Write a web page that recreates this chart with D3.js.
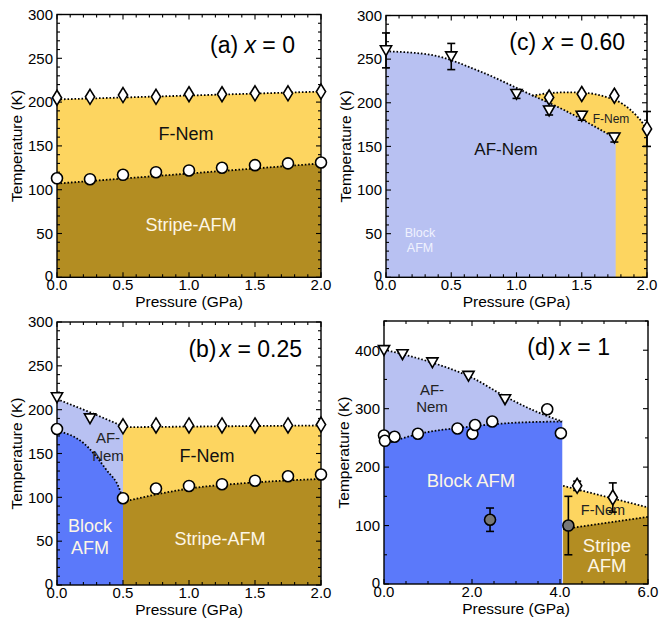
<!DOCTYPE html>
<html><head><meta charset="utf-8">
<script src="https://cdn.jsdelivr.net/npm/d3@7"></script>
<style>body{margin:0;background:#fff} text{font-family:"Liberation Sans",Arial,Helvetica,sans-serif}</style>
</head><body><svg id="chart" width="659" height="623"></svg>
<script>
// ---------- colours ----------
const C_FNEM = "#fdd560", C_STRIPE = "#b38d22", C_AFNEM = "#b8c1f2", C_BLOCK = "#5b79fa";

// ---------- panel (a) x = 0 ----------
const aP = [0, 0.25, 0.5, 0.75, 1, 1.25, 1.5, 1.75, 2];
const aTnem = [205, 206, 208, 206, 209, 209, 210, 210, 212];
const aTstripe = [113, 112, 117, 120, 122, 125, 128, 130, 131];
const aNemBoundary = [[0, 203], [2, 212]];
const aStripeBoundary = [[0, 107], [2, 130]];

// ---------- panel (b) x = 0.25 ----------
const bPtri = [0, 0.25], bTtri = [214, 190];
const bPdia = [0.5, 0.75, 1, 1.25, 1.5, 1.75, 2], bTdia = [181, 182, 182, 182, 182, 182, 183];
const bPcirc = [0, 0.5, 0.75, 1, 1.25, 1.5, 1.75, 2], bTcirc = [178, 99, 110, 113, 115, 119, 124, 126];
const bAFNemBoundary = [[0, 212], [0.25, 197], [0.5, 181]];
const bFNemBoundary = [[0.5, 180], [2, 182]];
const bBlockBoundary = [[0, 176], [0.2, 162], [0.376, 131], [0.477, 108], [0.5, 97]];
const bStripeBoundary = [[0.5, 95], [1, 110], [1.5, 117], [2, 121]];

// ---------- panel (c) x = 0.60 ----------
const cPtri = [0, 0.5, 1.0, 1.25, 1.5, 1.75], cTtri = [260, 253, 210, 191, 185, 160], cErrTri = [20, 15, 5, 5, 5, 5];
const cPdia = [1.25, 1.5, 1.75, 2.0], cTdia = [206, 210, 208, 170], cErrDia = [0, 0, 0, 20];
const cAFNemBoundary = [[0, 259], [0.34, 255], [0.72, 236], [1.10, 210], [1.36, 192], [1.76, 159]];
const cFNemBoundary = [[1.12, 208], [1.25, 211], [1.4, 212], [1.55, 211], [1.7, 206], [1.82, 198], [1.92, 185], [1.97, 176], [2.0, 168]];

// ---------- panel (d) x = 1 ----------
const dPtri = [0, 0.42, 1.10, 1.92, 2.75], dTtri = [400, 393, 379, 356, 316];
const dPcirc = [0, 0.02, 0.24, 0.77, 1.67, 2.01, 2.07, 2.46, 3.71, 4.02];
const dTcirc = [254, 245, 252, 257, 266, 257, 272, 278, 299, 258];
const dPgray = [2.41, 4.19], dTgray = [110, 100], dErrGray = [20, 50];
const dPdia = [4.39, 5.20], dTdia = [168, 148], dErrDia = [8, 25];
const dAFNemBoundary = [[0, 401], [1, 381], [2, 353], [2.75, 321], [3.4, 297], [4.05, 278]];
const dBlockBoundary = [[0, 239], [0.8, 257], [1.8, 268], [3, 276], [4.05, 278]];
const dFNemBoundary = [[4.07, 168], [6, 131]];
const dStripeBoundary = [[4.07, 94], [6, 115]];

const svg = d3.select("#chart");
const zip = (P, T, E) => P.map((p, i) => ({p, t: T[i], e: E ? E[i] : 0}));

function panel(cfg) {
  const x = d3.scaleLinear().domain(cfg.xDom).range([cfg.left, cfg.right]);
  const y = d3.scaleLinear().domain(cfg.yDom).range([cfg.bottom, cfg.top]);
  const g = svg.append("g");
  const id = "clip" + cfg.name;
  g.append("clipPath").attr("id", id).append("rect")
    .attr("x", cfg.left).attr("y", cfg.top).attr("width", cfg.right - cfg.left).attr("height", cfg.bottom - cfg.top);
  const fills = g.append("g").attr("clip-path", `url(#${id})`);
  const area = d3.area().x(d => x(d[0])).y0(y(0)).y1(d => y(d[1])).curve(d3.curveMonotoneX);
  const line = d3.line().x(d => x(d[0])).y(d => y(d[1])).curve(d3.curveMonotoneX);
  cfg.fills.forEach(f => fills.append("path").attr("d", area(f.pts)).attr("fill", f.color));
  // phase labels
  cfg.labels.forEach(l => {
    l.lines.forEach((s, i) => {
      g.append("text").attr("x", l.x).attr("y", l.y + i * l.lh).attr("text-anchor", "middle")
        .attr("font-size", l.size).attr("fill", l.color).text(s);
    });
  });
  // dotted boundaries
  cfg.lines.forEach(pts => g.append("path").attr("d", line(pts)).attr("fill", "none")
    .attr("stroke", "#000").attr("stroke-width", 1.8).attr("stroke-dasharray", "1.6,1.9"));
  // frame
  g.append("rect").attr("x", cfg.left).attr("y", cfg.top).attr("width", cfg.right - cfg.left)
    .attr("height", cfg.bottom - cfg.top).attr("fill", "none").attr("stroke", "#000").attr("stroke-width", 1.4);
  // ticks
  const eps = 1e-9;
  const xMaj = d3.range(cfg.xDom[0], cfg.xDom[1] + eps, cfg.xMajor);
  const xMin = d3.range(cfg.xDom[0], cfg.xDom[1] + eps, cfg.xMinor);
  const yMaj = d3.range(cfg.yDom[0], cfg.yDom[1] + eps, cfg.yMajor);
  const yMin = d3.range(cfg.yDom[0], cfg.yDom[1] + eps, cfg.yMinor);
  const tk = g.append("g").attr("stroke", "#000").attr("stroke-width", 1.1);
  xMin.forEach(v => { const L = xMaj.some(m => Math.abs(m - v) < 1e-6) ? 5 : 3; const px = x(v);
    tk.append("line").attr("x1", px).attr("x2", px).attr("y1", cfg.bottom).attr("y2", cfg.bottom - L);
    tk.append("line").attr("x1", px).attr("x2", px).attr("y1", cfg.top).attr("y2", cfg.top + L); });
  yMin.forEach(v => { const L = yMaj.some(m => Math.abs(m - v) < 1e-6) ? 5 : 3; const py = y(v);
    tk.append("line").attr("y1", py).attr("y2", py).attr("x1", cfg.left).attr("x2", cfg.left + L);
    tk.append("line").attr("y1", py).attr("y2", py).attr("x1", cfg.right).attr("x2", cfg.right - L); });
  xMaj.forEach(v => g.append("text").attr("x", x(v)).attr("y", cfg.bottom + 13).attr("text-anchor", "middle")
    .attr("font-size", 15).text(d3.format(".1f")(v)));
  yMaj.forEach(v => g.append("text").attr("x", cfg.left - 4).attr("y", y(v) + 5.3 - (v === 0 ? 1.5 : 0)).attr("text-anchor", "end")
    .attr("font-size", 15).text(d3.format("d")(v)));
  g.append("text").attr("x", (cfg.left + cfg.right) / 2).attr("y", cfg.bottom + 30).attr("text-anchor", "middle")
    .attr("font-size", 15.5).text("Pressure (GPa)");
  g.append("text").attr("transform", `translate(${cfg.left - 35.5},${(cfg.top + cfg.bottom) / 2}) rotate(-90)`)
    .attr("text-anchor", "middle").attr("font-size", 15.5).text("Temperature (K)");
  // title
  const tt = g.append("text").attr("x", cfg.title.x).attr("y", cfg.title.y).attr("text-anchor", "end").attr("font-size", 23);
  tt.append("tspan").text(cfg.title.pre);
  tt.append("tspan").attr("font-style", "italic").attr("dx", cfg.title.gap).text("x");
  tt.append("tspan").text(" = " + cfg.title.val);
  // markers
  const mk = g.append("g");
  cfg.markers.forEach(m => {
    m.data.forEach(d => {
      const px = x(d.p), py = y(d.t);
      if (d.e) {
        const y1 = y(d.t + d.e), y2 = y(d.t - d.e);
        mk.append("line").attr("x1", px).attr("x2", px).attr("y1", y1).attr("y2", y2).attr("stroke", "#000").attr("stroke-width", 1.6);
        [y1, y2].forEach(yy => mk.append("line").attr("x1", px - 4).attr("x2", px + 4).attr("y1", yy).attr("y2", yy).attr("stroke", "#000").attr("stroke-width", 1.6));
      }
      let s;
      if (m.type === "circle" || m.type === "gray") {
        s = mk.append("circle").attr("cx", px).attr("cy", py).attr("r", 5.5);
      } else if (m.type === "diamond") {
        s = mk.append("path").attr("transform", `translate(${px},${py})`).attr("d", "M0,-7.5L4.6,0L0,7.5L-4.6,0Z");
      } else {
        s = mk.append("path").attr("transform", `translate(${px},${py})`).attr("d", "M-5.6,-4.6L5.6,-4.6L0,5.2Z");
      }
      s.attr("fill", m.type === "gray" ? "#777" : "#fff").attr("stroke", "#000").attr("stroke-width", 1.6);
    });
  });
}

const WHITE = "#fdf6e6";
panel({
  name: "a", left: 57, right: 321, top: 14.5, bottom: 277.3, xDom: [0, 2], yDom: [0, 300],
  xMajor: 0.5, xMinor: 0.1, yMajor: 50, yMinor: 10,
  fills: [{pts: aNemBoundary, color: C_FNEM}, {pts: aStripeBoundary, color: C_STRIPE}],
  lines: [aNemBoundary, aStripeBoundary],
  labels: [{lines: ["F-Nem"], x: 186, y: 140, lh: 0, size: 18, color: "#111"},
           {lines: ["Stripe-AFM"], x: 191, y: 231, lh: 0, size: 18, color: WHITE}],
  title: {x: 295, y: 53, pre: "(a) ", gap: 0, val: "0"},
  markers: [{type: "diamond", data: zip(aP, aTnem)}, {type: "circle", data: zip(aP, aTstripe)}]
});
panel({
  name: "c", left: 386, right: 647, top: 15.5, bottom: 277.3, xDom: [0, 2], yDom: [0, 300],
  xMajor: 0.5, xMinor: 0.1, yMajor: 50, yMinor: 10,
  fills: [{pts: cFNemBoundary, color: C_FNEM}, {pts: cAFNemBoundary, color: C_AFNEM}],
  lines: [cAFNemBoundary, cFNemBoundary],
  labels: [{lines: ["AF-Nem"], x: 506, y: 155, lh: 0, size: 17, color: "#111"},
           {lines: ["F-Nem"], x: 611, y: 123, lh: 0, size: 12, color: "#222"},
           {lines: ["Block", "AFM"], x: 420, y: 236.5, lh: 15, size: 12.5, color: "#f0f2fe"}],
  title: {x: 625, y: 50, pre: "(c) ", gap: 0, val: "0.60"},
  markers: [{type: "tri", data: zip(cPtri, cTtri, cErrTri)}, {type: "diamond", data: zip(cPdia, cTdia, cErrDia)}]
});
panel({
  name: "b", left: 57, right: 321, top: 322, bottom: 585, xDom: [0, 2], yDom: [0, 300],
  xMajor: 0.5, xMinor: 0.1, yMajor: 50, yMinor: 10,
  fills: [{pts: bAFNemBoundary, color: C_AFNEM}, {pts: bBlockBoundary, color: C_BLOCK},
          {pts: bFNemBoundary, color: C_FNEM}, {pts: bStripeBoundary, color: C_STRIPE}],
  lines: [bAFNemBoundary, bBlockBoundary, bFNemBoundary, bStripeBoundary],
  labels: [{lines: ["AF-", "Nem"], x: 108, y: 443, lh: 18, size: 15, color: "#222"},
           {lines: ["F-Nem"], x: 207, y: 462, lh: 0, size: 18, color: "#111"},
           {lines: ["Block", "AFM"], x: 90, y: 532, lh: 21.5, size: 18, color: WHITE},
           {lines: ["Stripe-AFM"], x: 220, y: 545, lh: 0, size: 18, color: WHITE}],
  title: {x: 302, y: 357, pre: "(b)", gap: 3, val: "0.25"},
  markers: [{type: "tri", data: zip(bPtri, bTtri)}, {type: "diamond", data: zip(bPdia, bTdia)},
            {type: "circle", data: zip(bPcirc, bTcirc)}]
});
panel({
  name: "d", left: 384, right: 648, top: 321, bottom: 584, xDom: [0, 6], yDom: [0, 450],
  xMajor: 2, xMinor: 0.5, yMajor: 100, yMinor: 50,
  fills: [{pts: dAFNemBoundary, color: C_AFNEM}, {pts: dBlockBoundary, color: C_BLOCK},
          {pts: dFNemBoundary, color: C_FNEM}, {pts: dStripeBoundary, color: C_STRIPE}],
  lines: [dAFNemBoundary, dBlockBoundary, dFNemBoundary, dStripeBoundary],
  labels: [{lines: ["AF-", "Nem"], x: 432, y: 395, lh: 17, size: 15, color: "#222"},
           {lines: ["Block AFM"], x: 471, y: 487, lh: 0, size: 18.5, color: WHITE},
           {lines: ["F-Nem"], x: 603, y: 515, lh: 0, size: 14.5, color: "#222"},
           {lines: ["Stripe", "AFM"], x: 607, y: 552, lh: 20, size: 18.5, color: WHITE}],
  title: {x: 610, y: 355, pre: "(d)", gap: 4, val: "1"},
  markers: [{type: "tri", data: zip(dPtri, dTtri)}, {type: "circle", data: zip(dPcirc, dTcirc)},
            {type: "gray", data: zip(dPgray, dTgray, dErrGray)}, {type: "diamond", data: zip(dPdia, dTdia, dErrDia)}]
});
</script>
</body></html>
